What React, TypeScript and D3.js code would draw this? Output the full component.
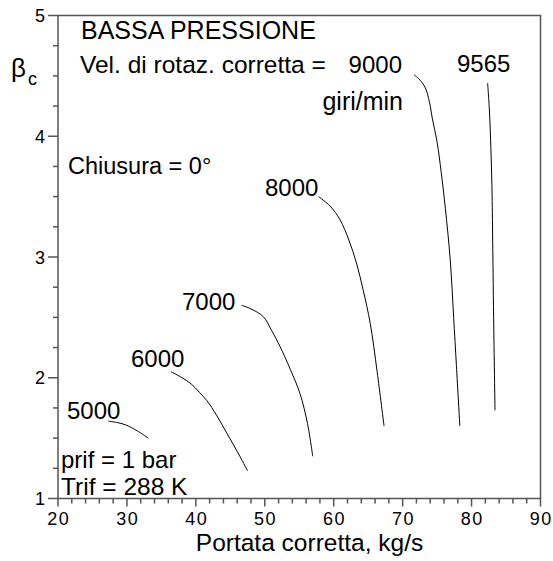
import React from "react";
import * as d3 from "d3";

// Characteristic lines of the low-pressure compressor: corrected mass flow [kg/s] vs pressure ratio
const speeds = ["5000", "6000", "7000", "8000", "9000", "9565"];

const flow5000 = [27.3, 28.5, 29.8, 31.5, 33.1];
const beta5000 = [1.64, 1.63, 1.61, 1.56, 1.5];

const flow6000 = [36.4, 38.0, 39.3, 40.5, 41.6, 43.0, 44.5, 46.0, 47.5];
const beta6000 = [2.05, 2.0, 1.95, 1.88, 1.81, 1.69, 1.54, 1.39, 1.23];

const flow7000 = [46.65, 48.0, 49.8, 51.0, 52.2, 53.7, 55.1, 56.2, 56.95];
const beta7000 = [2.6, 2.57, 2.505, 2.39, 2.26, 2.07, 1.87, 1.62, 1.35];

const flow8000 = [57.8, 59.5, 60.9, 62.2, 63.3, 64.3, 65.3, 66.3, 67.3];
const beta8000 = [3.5, 3.42, 3.31, 3.14, 2.95, 2.72, 2.45, 2.05, 1.6];

const flow9000 = [71.65, 72.6, 73.3, 73.9, 74.3, 75.0, 75.6, 76.2, 76.9, 77.4, 77.8, 78.3];
const beta9000 = [4.51, 4.46, 4.4, 4.28, 4.15, 3.95, 3.7, 3.4, 2.98, 2.5, 2.1, 1.6];

const flow9565 = [82.33, 82.6, 82.8, 82.95, 83.05, 83.2, 83.4];
const beta9565 = [4.44, 4.2, 3.9, 3.6, 3.2, 2.5, 1.73];

const xMajorTicks = [20, 30, 40, 50, 60, 70, 80, 90];
const yMajorTicks = [1, 2, 3, 4, 5];

const W = 553;
const H = 561;
const FONT = "'Liberation Sans', Arial, Helvetica, sans-serif";

const x = d3.scaleLinear().domain([20, 90]).range([58, 540.5]);
const y = d3.scaleLinear().domain([1, 5]).range([498.5, 15.5]);

const curves = [
  { flows: flow5000, betas: beta5000 },
  { flows: flow6000, betas: beta6000 },
  { flows: flow7000, betas: beta7000 },
  { flows: flow8000, betas: beta8000 },
  { flows: flow9000, betas: beta9000 },
  { flows: flow9565, betas: beta9565 },
];

const line = d3
  .line<[number, number]>()
  .x((d) => x(d[0]))
  .y((d) => y(d[1]))
  .curve(d3.curveCatmullRom.alpha(0.5));

// speed labels: [text anchor x, baseline y, anchor]
const speedLabelPos: [number, number, string][] = [
  [67, 419, "start"],
  [131, 367, "start"],
  [182, 310, "start"],
  [265, 196, "start"],
  [402, 73, "end"],
  [457, 72, "start"],
];

export default function App() {
  const xMinor = d3.range(20, 90.01, 2).filter((v) => v % 10 !== 0);
  const yMinor = d3.range(1, 5.001, 0.25).filter((v) => Math.abs(v - Math.round(v)) > 1e-6);
  const axisColor = "#555";

  return (
    <svg
      width={W}
      height={H}
      style={{ position: "absolute", left: 0, top: 0, background: "#fff" }}
      fontFamily={FONT}
    >
      <rect x={0} y={0} width={W} height={H} fill="#fff" />

      {/* frame */}
      <path
        d={`M${x(20)},${y(1)}V${y(5)}H${x(90)}V${y(1)}H${x(20)}`}
        fill="none"
        stroke={axisColor}
        strokeWidth={1.5}
      />

      {/* x ticks */}
      {xMajorTicks.map((v) => (
        <g key={`xt${v}`}>
          <line x1={x(v)} x2={x(v)} y1={y(1)} y2={y(1) + 8} stroke={axisColor} strokeWidth={1.5} />
          <text x={x(v) + 0.8} y={524.5} textAnchor="middle" fontSize={18} letterSpacing={1.5} fill="#000">
            {v}
          </text>
        </g>
      ))}
      {xMinor.map((v) => (
        <line key={`xm${v}`} x1={x(v)} x2={x(v)} y1={y(1)} y2={y(1) + 5} stroke={axisColor} strokeWidth={1.5} />
      ))}

      {/* y ticks */}
      {yMajorTicks.map((v) => (
        <g key={`yt${v}`}>
          <line x1={x(20) - 10} x2={x(20)} y1={y(v)} y2={y(v)} stroke={axisColor} strokeWidth={1.5} />
          <text x={45} y={y(v) + 6.5} textAnchor="end" fontSize={18} fill="#000">
            {v}
          </text>
        </g>
      ))}
      {yMinor.map((v) => (
        <line key={`ym${v}`} x1={x(20) - 5} x2={x(20)} y1={y(v)} y2={y(v)} stroke={axisColor} strokeWidth={1.5} />
      ))}

      {/* speed lines */}
      {curves.map((c, i) => (
        <path
          key={`c${i}`}
          d={line(c.flows.map((f, j) => [f, c.betas[j]]) as [number, number][]) || ""}
          fill="none"
          stroke="#000"
          strokeWidth={1}
        />
      ))}

      {/* speed labels */}
      {speeds.map((s, i) => (
        <text
          key={`s${s}`}
          x={speedLabelPos[i][0]}
          y={speedLabelPos[i][1]}
          textAnchor={speedLabelPos[i][2] as any}
          fontSize={24}
          fill="#000"
        >
          {s}
        </text>
      ))}

      {/* annotations */}
      <text x={81} y={39} fontSize={25} fill="#000">BASSA PRESSIONE</text>
      <text x={80} y={73} fontSize={24.5} fill="#000">Vel. di rotaz. corretta =</text>
      <text x={403} y={110} textAnchor="end" fontSize={25} fill="#000">giri/min</text>
      <text x={68} y={174} fontSize={23.5} fill="#000">Chiusura = 0°</text>
      <text x={61} y={468} fontSize={24} fill="#000">prif = 1 bar</text>
      <text x={61} y={495} fontSize={24.5} fill="#000">Trif = 288 K</text>

      {/* axis titles */}
      <text x={309.5} y={551} textAnchor="middle" fontSize={24.5} fill="#000">
        Portata corretta, kg/s
      </text>
      <text x={11} y={77} fontSize={26} fill="#000">β</text>
      <text x={28} y={85} fontSize={18} fill="#000">c</text>
    </svg>
  );
}
